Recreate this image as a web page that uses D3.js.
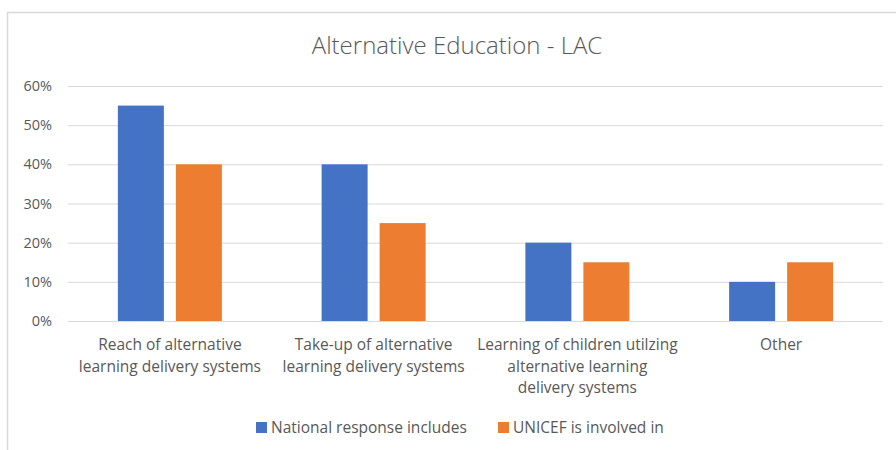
<!DOCTYPE html>
<html>
<head>
<meta charset="utf-8">
<script src="https://cdn.jsdelivr.net/npm/d3@7"></script>
<style>
  body { margin: 0; background: #fff; }
  text { font-family: "Open Sans", sans-serif; fill: #595959; }
</style>
</head>
<body>
<div id="chart-area"></div>
<script>

var categories = [
    ["Reach of alternative", "learning delivery systems"],
    ["Take-up of alternative", "learning delivery systems"],
    ["Learning of children utilzing", "alternative learning", "delivery systems"],
    ["Other"]
];
var seriesNames = ["National response includes", "UNICEF is involved in"];
var national = [0.55, 0.40, 0.20, 0.10];
var unicef = [0.40, 0.25, 0.15, 0.15];
var yTicks = [0, 0.1, 0.2, 0.3, 0.4, 0.5, 0.6];
var colors = ["#4472C4", "#ED7D31"];

var width = 896, height = 450;
var plotLeft = 68, plotRight = 883, plotTop = 86, plotBottom = 321;

var svg = d3.select("#chart-area")
    .append("svg")
        .attr("width", width)
        .attr("height", height);

// chart border
svg.append("rect")
    .attr("x", 7.5).attr("y", 12.5)
    .attr("width", 900).attr("height", 450)
    .attr("fill", "none")
    .attr("stroke", "#d9d9d9")
    .attr("stroke-width", 1.5);

svg.append("text")
    .attr("x", 457).attr("y", 54)
    .attr("text-anchor", "middle")
    .style("font-size", "24px")
    .style("font-weight", 300)
    .text("Alternative Education - LAC");

var x = d3.scaleBand()
    .domain(d3.range(categories.length))
    .range([plotLeft, plotRight]);

var x1 = d3.scaleBand()
    .domain([0, 1])
    .range([0, 104])
    .paddingInner(0.207);

var y = d3.scaleLinear()
    .domain([0, 0.6])
    .range([plotBottom, plotTop]);

// gridlines + y labels
var yAxis = d3.axisLeft(y)
    .tickValues(yTicks)
    .tickFormat(d3.format(".0%"))
    .tickSize(plotRight - plotLeft)
    .tickPadding(16);

var gy = svg.append("g")
    .attr("transform", "translate(" + plotRight + ",0)")
    .call(yAxis);
gy.select(".domain").remove();
gy.selectAll(".tick line").attr("stroke", "#d9d9d9").attr("stroke-width", 1);
gy.selectAll(".tick text")
    .attr("x", plotLeft - plotRight - 16)
    .style("font-size", "14.5px")
    .style("fill", "#595959")
    .style("font-family", "'Open Sans', sans-serif");

var data = categories.map(function(c, i) {
    return [national[i], unicef[i]];
});

var groups = svg.selectAll("g.cat")
    .data(data)
    .enter()
    .append("g")
        .attr("class", "cat")
        .attr("transform", function(d, i) {
            return "translate(" + (x(i) + (x.bandwidth() - 104) / 2) + ",0)";
        });

groups.selectAll("rect")
    .data(function(d) { return d; })
    .enter()
    .append("rect")
        .attr("x", function(d, j) { return x1(j); })
        .attr("y", function(d) { return y(d); })
        .attr("width", x1.bandwidth())
        .attr("height", function(d) { return y(0) - y(d); })
        .attr("fill", function(d, j) { return colors[j]; });

// category labels
svg.selectAll("text.cat")
    .data(categories)
    .enter()
    .append("text")
        .attr("class", "cat")
        .attr("text-anchor", "middle")
        .style("font-size", "15.5px")
        .attr("transform", function(d, i) {
            return "translate(" + (x(i) + x.bandwidth() / 2) + ",350)";
        })
        .selectAll("tspan")
        .data(function(d) { return d; })
        .enter()
        .append("tspan")
            .attr("x", 0)
            .attr("y", function(d, k) { return k * 21.5; })
            .text(function(d) { return d; });

// legend
var legendX = [256, 498];
var lg = svg.selectAll("g.legend")
    .data(seriesNames)
    .enter()
    .append("g")
        .attr("class", "legend")
        .attr("transform", function(d, i) {
            return "translate(" + legendX[i] + ",422)";
        });

lg.append("rect")
    .attr("width", 11).attr("height", 11)
    .attr("fill", function(d, i) { return colors[i]; });

lg.append("text")
    .attr("x", 15).attr("y", 11)
    .style("font-size", "15.5px")
    .text(function(d) { return d; });

</script>
</body>
</html>
